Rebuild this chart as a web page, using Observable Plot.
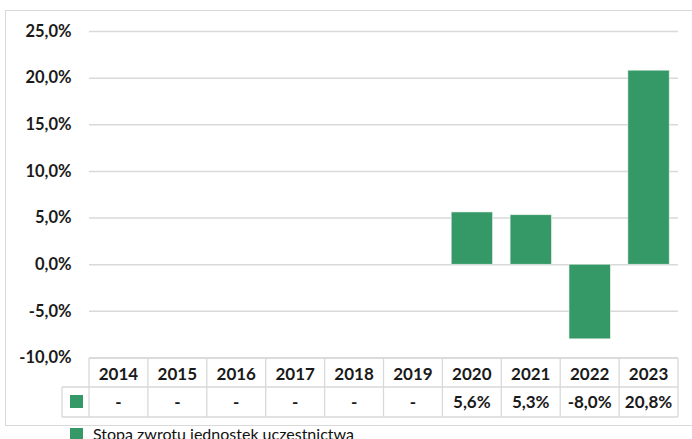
<!DOCTYPE html>
<html>
<head>
<meta charset="utf-8">
<script src="https://cdn.jsdelivr.net/npm/d3@7"></script>
<script src="https://cdn.jsdelivr.net/npm/@observablehq/plot@0.6"></script>
<style>
  body { margin: 0; background: #fff; }
  #wrap { position: relative; width: 692px; height: 439px; overflow: hidden; background: #fff; }
  #frame { position: absolute; left: 5px; top: 10px; width: 720px; height: 416px; border: 1px solid #d9d9d9; box-sizing: border-box; }
  #chart { position: absolute; left: 0; top: 0; }
  #table { position: absolute; left: 0; top: 0; }
</style>
</head>
<body>
<div id="wrap">
  <div id="frame"></div>
  <div id="chart"></div>
  <svg id="table" width="692" height="439"></svg>
</div>
<script>
const years = ["2014", "2015", "2016", "2017", "2018", "2019", "2020", "2021", "2022", "2023"];
const values = [null, null, null, null, null, null, 5.6, 5.3, -8.0, 20.8];
const yTicks = [-10, -5, 0, 5, 10, 15, 20, 25];
const seriesName = "Stopa zwrotu jednostek uczestnictwa";
const barColor = "#349966";
const textColor = "#1a1a1a";
const gridColor = "#d9d9d9";

const fmt = v => v.toFixed(1).replace(".", ",") + "%";
const data = years.map((year, i) => ({year, value: values[i]}));

const plot = Plot.plot({
  width: 692,
  height: 372,
  marginLeft: 89,
  marginRight: 14,
  marginTop: 31,
  marginBottom: 14.5,
  style: {fontFamily: "Lato", fontSize: "16.5px", fontWeight: "bold", color: textColor, background: "transparent"},
  x: {domain: years, padding: 0, round: false, axis: null},
  y: {domain: [-10, 25], axis: null},
  marks: [
    Plot.ruleY(yTicks, {stroke: gridColor, strokeWidth: 1.5}),
    Plot.axisY(yTicks, {tickSize: 0, tickPadding: 18, tickFormat: fmt, label: null, fill: textColor}),
    Plot.barY(data.filter(d => d.value != null), {x: "year", y: "value", fill: barColor, stroke: "#e6f0ea", strokeWidth: 0.6, insetLeft: 8.8, insetRight: 8.8})
  ]
});
document.getElementById("chart").appendChild(plot);

// Data table under the chart, aligned on the plot's x band scale
const xs = plot.scale("x");
const bw = xs.bandwidth;
const x0 = xs.apply(years[0]);
const x1 = xs.apply(years[years.length - 1]) + bw;
const keyLeft = x0 - 27;
const rowTop = 358, rowMid = 387, rowBot = 417;
const svg = d3.select("#table");
const g = svg.append("g").attr("stroke", gridColor).attr("stroke-width", 1.3);
g.append("line").attr("x1", x0).attr("x2", x1).attr("y1", rowTop).attr("y2", rowTop);
g.append("line").attr("x1", keyLeft).attr("x2", x1).attr("y1", rowMid).attr("y2", rowMid);
g.append("line").attr("x1", keyLeft).attr("x2", x1).attr("y1", rowBot).attr("y2", rowBot);
g.append("line").attr("x1", keyLeft).attr("x2", keyLeft).attr("y1", rowMid).attr("y2", rowBot);
years.forEach(y => {
  const xx = xs.apply(y);
  g.append("line").attr("x1", xx).attr("x2", xx).attr("y1", rowTop).attr("y2", rowBot);
});
g.append("line").attr("x1", x1).attr("x2", x1).attr("y1", rowTop).attr("y2", rowBot);

const t = svg.append("g").attr("font-family", "Lato").attr("font-size", 17).attr("font-weight", "bold")
  .attr("fill", textColor).attr("text-anchor", "middle");
data.forEach(d => {
  const cx = xs.apply(d.year) + bw / 2;
  t.append("text").attr("x", cx).attr("y", (rowTop + rowMid) / 2 + 1).attr("dy", "0.36em").text(d.year);
  t.append("text").attr("x", cx).attr("y", (rowMid + rowBot) / 2).attr("dy", "0.36em")
    .text(d.value == null ? "-" : fmt(d.value));
});
svg.append("rect").attr("x", keyLeft + 8).attr("y", 395).attr("width", 13).attr("height", 13).attr("fill", barColor);

// Legend below
svg.append("rect").attr("x", keyLeft + 8).attr("y", 428).attr("width", 13).attr("height", 13).attr("fill", barColor);
svg.append("text").attr("x", keyLeft + 31).attr("y", 440).attr("font-family", "Lato").attr("font-size", 16)
  .attr("fill", "#111").text(seriesName);
</script>
</body>
</html>
